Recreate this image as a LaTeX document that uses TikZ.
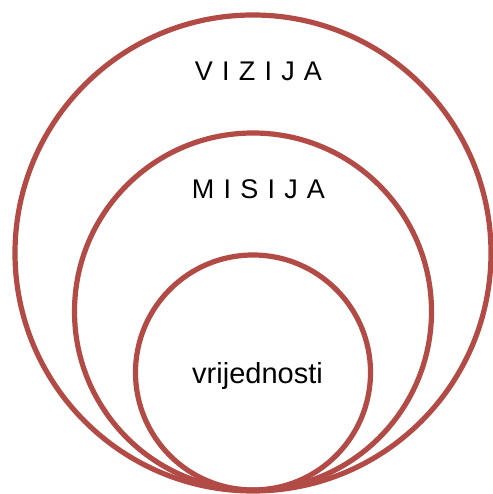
\documentclass[tikz,border=0pt]{standalone}
\usepackage{fontspec}
\setmainfont{Liberation Sans}
\definecolor{ringred}{RGB}{178,74,69}
\newcommand{\gp}{\hspace{1.7pt}}
\begin{document}
\begin{tikzpicture}[x=1pt,y=1pt,
  ring/.style={draw=ringred,line width=5.2pt},
  caplabel/.style={anchor=base,inner sep=0pt,font=\fontsize{27}{32}\selectfont},
  corelabel/.style={anchor=base,inner sep=0pt,font=\fontsize{29}{34}\selectfont}]
\useasboundingbox (0,0) rectangle (492,494);
\draw[ring] (253,241) circle (238);
\draw[ring] (253,182.5) circle (178.5);
\draw[ring] (253,121.5) circle (117.5);
\node[caplabel] (vizija) at (258.5,413) {V \gp I \gp Z \gp I \gp J \gp A};
\node[caplabel] (misija) at (258.5,295) {M \gp I \gp S \gp I \gp J \gp A};
\node[corelabel] (vrij) at (257.5,110) {vrijednosti};
\end{tikzpicture}
\end{document}
